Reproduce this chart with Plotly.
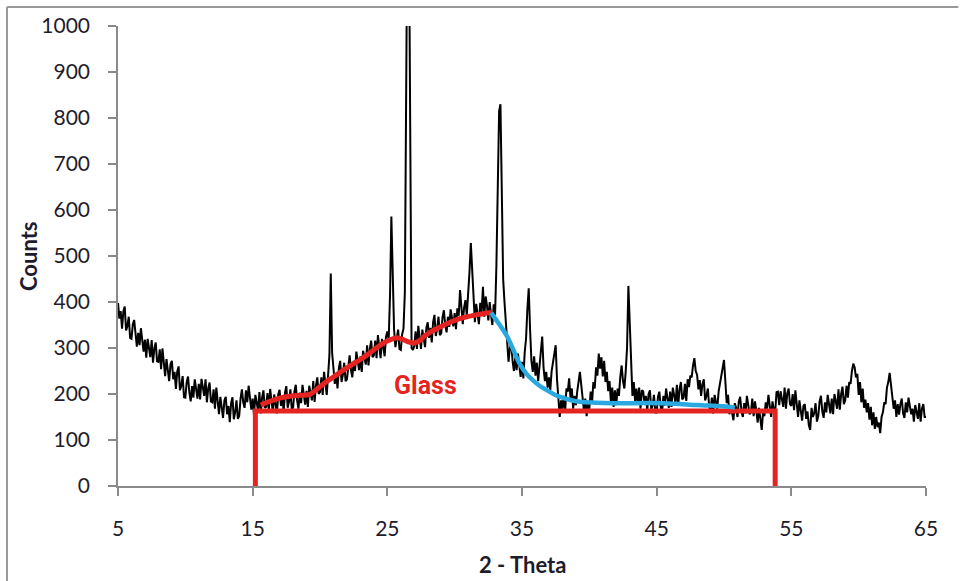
import numpy as np
import plotly.graph_objects as go

# ---- measured pattern (2-theta grid 5.0 .. 65.0, step 0.1) ----
counts_05_15 = [
    398, 364, 380, 342, 380, 390, 338, 348, 368, 322,
    320, 351, 361, 324, 303, 333, 306, 343, 317, 292,
    318, 279, 320, 301, 280, 317, 268, 299, 312, 271,
    270, 297, 254, 299, 272, 239, 276, 245, 228, 265,
    272, 232, 248, 211, 249, 260, 208, 218, 239, 193,
    192, 225, 238, 203, 184, 217, 192, 232, 211, 190,
    222, 188, 233, 216, 196, 232, 182, 212, 225, 184,
    182, 210, 168, 214, 188, 156, 194, 164, 148, 186,
    194, 156, 174, 139, 180, 193, 145, 160, 186, 146,
    152, 190, 210, 182, 170, 208, 182, 218, 192, 166,
]
counts_15_25 = [
    190, 154, 198, 182, 164, 204, 158, 192, 208, 170,
    172, 202, 163, 211, 188, 159, 199, 172, 158, 199,
    209, 174, 195, 161, 203, 217, 170, 184, 210, 168,
    170, 205, 220, 186, 168, 203, 180, 220, 198, 177,
    207, 172, 218, 203, 186, 228, 183, 218, 236, 200,
    204, 236, 198, 248, 226, 198, 240, 285, 462, 290,
    256, 222, 244, 212, 256, 272, 226, 242, 268, 228,
    232, 268, 284, 252, 236, 272, 250, 292, 272, 252,
    282, 248, 294, 280, 264, 306, 262, 298, 316, 280,
    284, 316, 278, 328, 306, 278, 320, 294, 282, 324,
]
counts_25_35 = [
    336, 318, 415, 586, 430, 340, 302, 318, 340, 298,
    296, 330, 342, 420, 900, 1300, 1250, 700, 300, 296,
    304, 336, 298, 348, 326, 298, 340, 314, 302, 344,
    356, 322, 344, 312, 356, 372, 326, 342, 368, 328,
    332, 367, 382, 350, 334, 368, 346, 384, 364, 347,
    376, 341, 386, 370, 426, 392, 352, 388, 404, 370,
    410, 465, 528, 470, 400, 356, 396, 372, 352, 398,
    377, 433, 368, 412, 392, 360, 400, 372, 350, 395,
    372, 480, 680, 815, 830, 600, 450, 400, 352, 320,
    270, 300, 310, 272, 250, 280, 252, 288, 262, 237,
]
counts_35_45 = [
    270, 234, 290, 320, 385, 430, 340, 272, 248, 282,
    240, 268, 228, 262, 300, 325, 258, 228, 248, 214,
    236, 208, 250, 272, 282, 306, 232, 176, 150, 186,
    168, 196, 160, 212, 205, 234, 192, 212, 168, 196,
    176, 205, 226, 248, 220, 186, 164, 190, 152, 184,
    168, 205, 180, 226, 212, 258, 240, 288, 255, 280,
    238, 272, 226, 248, 206, 228, 184, 214, 172, 208,
    176, 212, 196, 238, 262, 228, 212, 248, 300, 435,
    360, 252, 196, 226, 184, 212, 176, 214, 168, 208,
    206, 178, 196, 164, 200, 208, 166, 176, 198, 160,
]
counts_45_55 = [
    160, 194, 205, 172, 160, 196, 175, 212, 192, 170,
    205, 172, 214, 198, 180, 220, 176, 210, 226, 188,
    192, 222, 185, 232, 215, 240, 236, 262, 278, 250,
    242, 210, 230, 196, 222, 232, 186, 196, 212, 172,
    162, 192, 158, 198, 182, 168, 205, 222, 240, 262,
    274, 228, 180, 198, 156, 176, 162, 143, 180, 170,
    150, 184, 194, 162, 150, 180, 158, 196, 176, 156,
    160, 190, 152, 184, 164, 138, 170, 148, 122, 160,
    152, 182, 168, 198, 172, 150, 184, 164, 160, 204,
    205, 176, 206, 192, 172, 214, 168, 202, 212, 178,
]
counts_55_65 = [
    174, 200, 165, 208, 184, 150, 186, 160, 142, 174,
    178, 146, 162, 132, 122, 170, 150, 158, 180, 140,
    152, 184, 196, 162, 148, 182, 160, 198, 178, 158,
    190, 156, 200, 184, 168, 210, 166, 200, 216, 178,
    186, 218, 192, 226, 222, 250, 266, 258, 236, 244,
    198, 226, 182, 212, 170, 188, 160, 180, 144, 172,
    132, 160, 124, 150, 128, 138, 115, 150, 160, 182,
    178, 214, 226, 246, 222, 198, 168, 186, 150, 178,
    155, 178, 190, 158, 148, 182, 160, 192, 176, 156,
    168, 140, 176, 162, 146, 180, 140, 168, 178, 150,
]
counts_65 = [150]

# ---- fitted glass hump (red) and decay (blue) ----
glass_x = [15.6, 16, 16.5, 17, 17.5, 18, 18.5, 19, 19.3, 20, 20.5, 21, 21.5, 22, 22.5,
           23, 23.5, 24, 24.5, 25, 25.5, 25.8, 26.2, 26.6, 27, 27.4, 27.8, 28.4, 29,
           29.6, 30.2, 30.8, 31.4, 32, 32.7]
glass_y = [176, 181, 186, 191, 194, 196, 197, 198, 200, 216, 227, 237, 247, 257, 266,
           275, 285, 296, 307, 315, 321, 322, 318, 313, 311, 316, 327, 338, 347,
           355, 362, 367, 371, 374, 377]
decay_x = [32.7, 33.3, 33.9, 34.4, 34.8, 35.3, 35.8, 36.3, 36.8, 37.4, 38, 38.6, 39.3,
           40.5, 41.7, 45.5, 48, 50.4, 50.8]
decay_y = [377, 352, 325, 293, 267, 245, 230, 218, 209, 199, 192, 187, 183,
           181, 180, 180, 176, 172, 170]

# ---- glass baseline bracket ----
base_x = [15.2, 15.2, 53.8, 53.8]
base_y = [0, 163, 163, 0]

x_ticks = [5, 15, 25, 35, 45, 55, 65]
y_ticks = [0, 100, 200, 300, 400, 500, 600, 700, 800, 900, 1000]

counts = counts_05_15 + counts_15_25 + counts_25_35 + counts_35_45 + counts_45_55 + counts_55_65 + counts_65
two_theta = np.round(5.0 + 0.1 * np.arange(len(counts)), 1)

RED = "#e52421"
BLUE = "#2aa9e0"
TXT = "#1e1c2c"

fig = go.Figure()
fig.add_trace(go.Scatter(x=two_theta, y=counts, mode="lines",
                         line=dict(color="#000000", width=2), showlegend=False))
fig.add_trace(go.Scatter(x=base_x, y=base_y, mode="lines",
                         line=dict(color=RED, width=5), showlegend=False))
fig.add_trace(go.Scatter(x=glass_x, y=glass_y, mode="lines", line_shape="spline",
                         line=dict(color=RED, width=5), showlegend=False))
fig.add_trace(go.Scatter(x=decay_x, y=decay_y, mode="lines", line_shape="spline",
                         line=dict(color=BLUE, width=4.5), showlegend=False))

fig.add_annotation(x=27.8, y=219, text="<b>Glass</b>", showarrow=False,
                   font=dict(family="Roboto, sans-serif", size=25, color=RED))

# axis titles
fig.add_annotation(xref="paper", yref="paper", x=-0.1114, y=0.5, textangle=-90,
                   xanchor="center", yanchor="middle",
                   text="<b>Counts</b>", showarrow=False,
                   font=dict(family="Lato, sans-serif", size=22, color=TXT))
fig.add_annotation(xref="paper", yref="paper", x=0.5, y=-0.1717,
                   xanchor="center", yanchor="middle",
                   text="<b>2 - Theta</b>", showarrow=False,
                   font=dict(family="Lato, sans-serif", size=22, color=TXT))

# chart-area frame (top and left edges)
fig.add_shape(type="line", xref="paper", yref="paper", x0=-0.1374, x1=1.04, y0=1.0413, y1=1.0413,
              line=dict(color="#9a9a9a", width=2))
fig.add_shape(type="line", xref="paper", yref="paper", x0=-0.1374, x1=-0.1374, y0=1.0413, y1=-0.25,
              line=dict(color="#9a9a9a", width=2))

fig.update_layout(
    width=961, height=581,
    margin=dict(l=118, r=35, t=26, b=95),
    paper_bgcolor="white", plot_bgcolor="white",
    font=dict(family="Lato, sans-serif", color=TXT),
)
fig.update_xaxes(range=[5, 65], tickmode="array", tickvals=x_ticks,
                 showgrid=False, zeroline=False,
                 showline=True, linecolor="#8a8a8a", linewidth=1.5,
                 ticks="outside", ticklen=8, tickcolor="#8a8a8a", tickwidth=1.5,
                 tickfont=dict(size=21, color=TXT), ticklabelstandoff=15)
fig.update_yaxes(range=[0, 1000], tickmode="array", tickvals=y_ticks,
                 showgrid=False, zeroline=False,
                 showline=True, linecolor="#8a8a8a", linewidth=1.5,
                 ticks="outside", ticklen=8, tickcolor="#8a8a8a", tickwidth=1.5,
                 tickfont=dict(size=21, color=TXT), ticklabelstandoff=14)

fig.write_html("out.html")
